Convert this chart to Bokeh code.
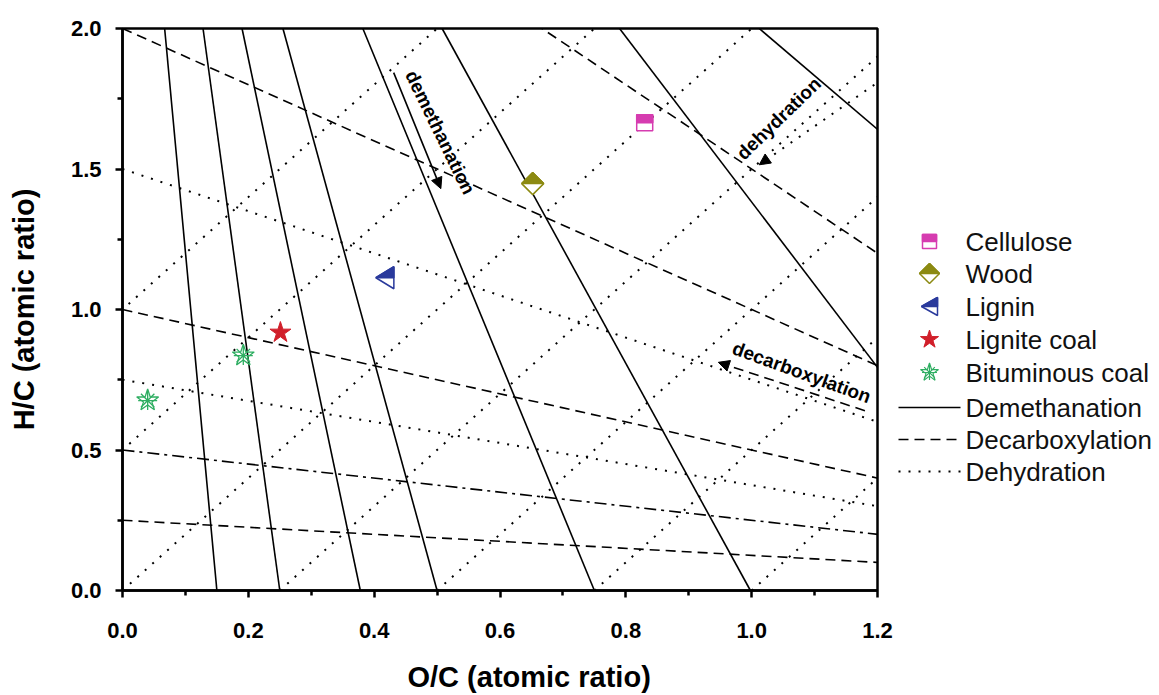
from bokeh.plotting import figure
from bokeh.layouts import row
from bokeh.models import Range1d, FixedTicker, PrintfTickFormatter, Arrow, NormalHead, Title
from bokeh.core.properties import value
from bokeh.embed import file_html
from bokeh.resources import INLINE

# ---------------- data ----------------
# Demethanation lines: O/C where each line meets H/C = 2.0 and H/C = 0.0
demeth_top_x = [0.067, 0.128, 0.190, 0.255, 0.382, 0.508, 0.790, 1.012]
demeth_bottom_x = [0.150, 0.250, 0.378, 0.500, 0.750, 0.998, 1.470, 2.060]
# Decarboxylation lines: H/C intercept at O/C = 0, all converge on CO2 (O/C=2, H/C=0)
decarb_y0 = [3.0, 2.0, 1.5, 1.0, 0.75, 0.5, 0.25]
decarb_style = ["dash", "dash", "dot", "dash", "dot", "dashdot", "dash"]
co2_oc, co2_hc = 2.0, 0.0
# Dehydration lines: O/C intercept at H/C = 0, slope dH/dO = 2
dehyd_x0 = [-0.5, -0.25, 0.0, 0.25, 0.5, 0.75, 1.0]
dehyd_slope = 2.0

# Samples
cellulose_x, cellulose_y = [0.830], [1.665]
wood_x, wood_y = [0.652], [1.448]
lignin_x, lignin_y = [0.417], [1.113]
lignite_x, lignite_y = [0.251], [0.918]
bitum_x, bitum_y = [0.192, 0.040], [0.836, 0.676]

x_ticks = [0.0, 0.2, 0.4, 0.6, 0.8, 1.0, 1.2]
x_minor = [0.1, 0.3, 0.5, 0.7, 0.9, 1.1]
y_ticks = [0.0, 0.5, 1.0, 1.5, 2.0]
y_minor = [0.25, 0.75, 1.25, 1.75]

legend_labels = ["Cellulose", "Wood", "Lignin", "Lignite coal", "Bituminous coal",
                 "Demethanation", "Decarboxylation", "Dehydration"]

# ---------------- styles ----------------
C_CELL = "#d63cb0"
C_WOOD = "#8c8a12"
C_LIGN = "#2a3a9c"
C_LIGNITE = "#d11f2a"
C_BIT = "#2fae62"
DASH = {"dash": "10 6", "dot": "2 8", "dashdot": "12 5 3 5", "solid": "solid"}
FONT = "Liberation Sans"

FW, FH = 755, 562
TOP, LEFT, BOTTOM, RIGHT = 28, 122, 105, 20
XMIN, XMAX, YMIN, YMAX = 0.0, 1.2, 0.0, 2.0
kx = (XMAX - XMIN) / FW
ky = (YMAX - YMIN) / FH

p = figure(frame_width=FW, frame_height=FH,
           x_range=Range1d(XMIN, XMAX), y_range=Range1d(YMIN, YMAX),
           output_backend="svg", toolbar_location=None,
           min_border_left=LEFT, min_border_top=TOP, min_border_bottom=BOTTOM,
           min_border_right=RIGHT)
p.grid.visible = False
p.background_fill_color = "white"
p.border_fill_color = "white"
p.outline_line_color = "black"
p.outline_line_width = 2.5

p.xaxis.ticker = FixedTicker(ticks=x_ticks, minor_ticks=x_minor)
p.yaxis.ticker = FixedTicker(ticks=y_ticks, minor_ticks=y_minor)
p.yaxis.axis_label = "H/C (atomic ratio)"
p.axis.formatter = PrintfTickFormatter(format="%.1f")
p.axis.axis_label_text_font = FONT
p.axis.axis_label_text_font_style = "bold"
p.axis.axis_label_text_font_size = "29px"
p.axis.axis_label_text_color = "black"
p.axis.major_label_text_font = FONT
p.axis.major_label_text_font_style = "bold"
p.axis.major_label_text_font_size = "22px"
p.axis.major_label_text_color = "black"
p.axis.axis_line_width = 2.5
p.axis.major_tick_line_width = 2.5
p.axis.minor_tick_line_width = 2.5
p.axis.major_tick_in = 0
p.axis.major_tick_out = 7
p.axis.minor_tick_in = 0
p.axis.minor_tick_out = 5

p.xaxis.major_label_standoff = 25
p.yaxis.major_label_standoff = 14
p.yaxis.axis_label_standoff = 28

# x-axis title, placed right of centre as in the reference
p.add_layout(Title(text="O/C (atomic ratio)", align="left", offset=285, standoff=36,
                   text_font=FONT, text_font_style="bold", text_font_size="29px",
                   text_color="black"), "below")

LW = 1.6
# demethanation (solid)
for tx, bx in zip(demeth_top_x, demeth_bottom_x):
    p.line([tx, bx], [YMAX, YMIN], line_color="black", line_width=LW)
# decarboxylation family
for y0, st in zip(decarb_y0, decarb_style):
    p.line([0.0, co2_oc], [y0, co2_hc], line_color="black", line_width=LW if st != "dot" else 2,
           line_dash=DASH[st])
# dehydration (dotted)
for x0 in dehyd_x0:
    p.line([x0, x0 + (YMAX - YMIN) / dehyd_slope], [YMIN, YMAX], line_color="black",
           line_width=2, line_dash=DASH["dot"])

# annotation arrows and texts
p.add_layout(Arrow(end=NormalHead(size=11, fill_color="black", line_color="black"),
                   x_start=0.431, y_start=1.843, x_end=0.506, y_end=1.43,
                   line_color="black", line_width=1.6))
p.add_layout(Arrow(end=NormalHead(size=11, fill_color="black", line_color="black"),
                   x_start=1.195, y_start=1.80, x_end=1.012, y_end=1.515,
                   line_color="black", line_width=2, line_dash=DASH["dot"]))
p.add_layout(Arrow(end=NormalHead(size=11, fill_color="black", line_color="black"),
                   x_start=1.18, y_start=0.64, x_end=0.947, y_end=0.812,
                   line_color="black", line_width=1.6, line_dash=DASH["dash"]))
p.text(x=[0.505, 1.043, 1.0795], y=[1.63, 1.68, 0.776],
       text=["demethanation", "dehydration", "decarboxylation"],
       angle=[-1.117, 0.77, -0.35],
       text_font=value(FONT), text_font_style="bold", text_font_size="19px",
       text_align="center", text_baseline="middle", text_color="black")


def half_shapes(kind, cx, cy, r, sx, sy, r2=None):
    """Return (full, top) polygons; offsets in px (+up) scaled to data units."""
    if kind == "square":
        full = [(-r, -r), (r, -r), (r, r), (-r, r)]
        top = [(-r, 0), (r, 0), (r, r), (-r, r)]
    elif kind == "diamond":
        full = [(0, r), (r, 0), (0, -r), (-r, 0)]
        top = [(-r, 0), (0, r), (r, 0)]
    else:  # left-pointing triangle, r = half width, r2 = half height
        full = [(-r, 0), (r, r2), (r, -r2)]
        top = [(-r, 0), (r, r2), (r, 0)]
    f = ([cx + a * sx for a, b in full], [cy + b * sy for a, b in full])
    t = ([cx + a * sx for a, b in top], [cy + b * sy for a, b in top])
    return f, t


def draw_half(fig, kind, xs, ys, color, r, sx, sy, r2=None):
    for cx, cy in zip(xs, ys):
        f, t = half_shapes(kind, cx, cy, r, sx, sy, r2)
        fig.patch(f[0], f[1], fill_color="white", line_color=color, line_width=1.5)
        fig.patch(t[0], t[1], fill_color=color, line_color=color, line_width=1.5)


draw_half(p, "square", cellulose_x, cellulose_y, C_CELL, 8, kx, ky)
draw_half(p, "diamond", wood_x, wood_y, C_WOOD, 11, kx, ky)
draw_half(p, "tri", lignin_x, lignin_y, C_LIGN, 9, kx, ky, 11)
p.scatter(lignite_x, lignite_y, marker="star", size=22, fill_color=C_LIGNITE, line_color=C_LIGNITE)
p.scatter(bitum_x, bitum_y, marker="star", size=23, fill_color=None, line_color=C_BIT, line_width=1.3)
p.scatter(bitum_x, bitum_y, marker="asterisk", size=19, line_color=C_BIT, line_width=1.3)

# ---------------- legend panel (page-pixel coordinates) ----------------
MAIN_W = LEFT + FW + RIGHT
LEGW = 1159 - MAIN_W
leg = figure(frame_width=LEGW, frame_height=FH,
             x_range=Range1d(MAIN_W, 1159), y_range=Range1d(TOP + FH, TOP),
             output_backend="svg", toolbar_location=None,
             min_border_left=0, min_border_right=0,
             min_border_top=TOP, min_border_bottom=BOTTOM,
             x_axis_location=None, y_axis_location=None)
leg.grid.visible = False
leg.outline_line_color = None
leg.background_fill_color = "white"
leg.border_fill_color = "white"

ly = [241, 273, 306, 339, 372, 407, 439, 471]
mx = 929
tx = 965
draw_half(leg, "square", [mx], [ly[0]], C_CELL, 7, 1, -1)
draw_half(leg, "diamond", [mx], [ly[1]], C_WOOD, 10, 1, -1)
draw_half(leg, "tri", [mx], [ly[2]], C_LIGN, 8, 1, -1, 9)
leg.scatter([mx], [ly[3]], marker="star", size=19, fill_color=C_LIGNITE, line_color=C_LIGNITE)
leg.scatter([mx], [ly[4]], marker="star", size=19, fill_color=None, line_color=C_BIT, line_width=1.2)
leg.scatter([mx], [ly[4]], marker="asterisk", size=15, line_color=C_BIT, line_width=1.2)
x0l, x1l = 898, 960
leg.line([x0l, x1l], [ly[5], ly[5]], line_color="black", line_width=1.6)
leg.line([x0l, x1l], [ly[6], ly[6]], line_color="black", line_width=1.6, line_dash=DASH["dash"])
leg.line([x0l, x1l], [ly[7], ly[7]], line_color="black", line_width=2, line_dash=DASH["dot"])
leg.text(x=[tx] * len(legend_labels), y=ly, text=legend_labels,
         text_font=value(FONT), text_font_size="26px", text_color="#111111",
         text_align="left", text_baseline="middle")

layout = row(p, leg, spacing=0)
open("out.html", "w").write(file_html(layout, INLINE))
